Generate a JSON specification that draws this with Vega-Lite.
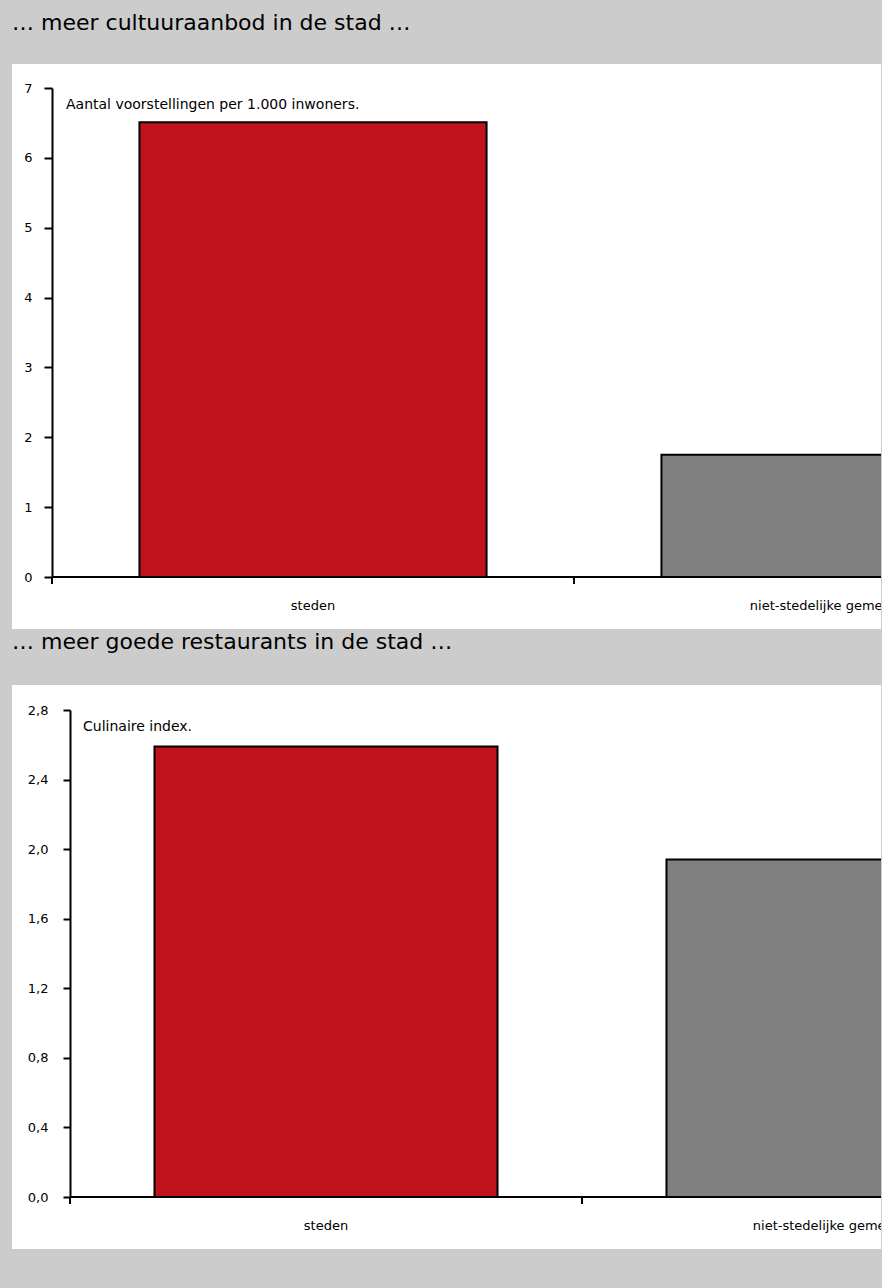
{
  "$schema": "https://vega.github.io/schema/vega-lite/v6.json",
  "background": "#cccccc",
  "padding": {"left": 12, "top": 12, "right": 1, "bottom": 39},
  "spacing": 2,
  "config": {
    "font": "DejaVu Sans",
    "locale": {"number": {"decimal": ",", "thousands": ".", "grouping": [3], "currency": ["€ ", ""]}},
    "view": {"fill": "white", "stroke": null},
    "title": {"anchor": "start", "frame": "group", "fontSize": 22, "fontWeight": "normal", "color": "black", "font": "DejaVu Sans", "offset": 29},
    "axis": {"grid": false, "domainColor": "black", "domainWidth": 2, "tickColor": "black", "tickWidth": 2, "tickSize": 8, "labelFontSize": 13, "labelColor": "black", "labelFont": "DejaVu Sans", "labelFlush": false, "title": null}
  },
  "datasets": {
    "cultuur": [
      {"gebied": "steden", "waarde": 6.51},
      {"gebied": "niet-stedelijke gemeenten", "waarde": 1.75}
    ],
    "restaurants": [
      {"gebied": "steden", "waarde": 2.59},
      {"gebied": "niet-stedelijke gemeenten", "waarde": 1.94}
    ]
  },
  "vconcat": [
    {
      "title": {"text": "… meer cultuuraanbod in de stad …"},
      "width": 869,
      "height": 565,
      "data": {"name": "cultuur"},
      "layer": [
        {
          "mark": {"type": "bar", "stroke": "black", "strokeWidth": 2, "width": {"band": 0.665}, "clip": true},
          "encoding": {
            "x": {"field": "gebied", "type": "nominal", "sort": null, "scale": {"domain": ["steden", "niet-stedelijke gemeenten"], "range": [40, 1084], "paddingInner": 0, "paddingOuter": 0}, "axis": null},
            "y": {"field": "waarde", "type": "quantitative", "scale": {"domain": [0, 7], "range": [513, 24], "nice": false, "zero": true}, "axis": {"values": [0, 1, 2, 3, 4, 5, 6, 7], "format": "d", "offset": -40, "labelPadding": 12}},
            "fill": {"field": "gebied", "type": "nominal", "scale": {"domain": ["steden", "niet-stedelijke gemeenten"], "range": ["#c1131d", "#808080"]}, "legend": null}
          }
        },
        {
          "transform": [{"filter": "datum.gebied === 'steden'"}],
          "mark": {"type": "rule", "color": "black", "strokeWidth": 2, "clip": true},
          "encoding": {
            "x": {"field": "gebied", "type": "nominal", "sort": null, "bandPosition": 0},
            "x2": {"value": "width"},
            "y": {"datum": 0}
          }
        },
        {
          "mark": {"type": "rule", "color": "black", "strokeWidth": 2, "y2Offset": 7, "clip": true},
          "encoding": {
            "x": {"field": "gebied", "type": "nominal", "sort": null, "bandPosition": 0},
            "y": {"datum": 0},
            "y2": {"datum": 0}
          }
        },
        {
          "mark": {"type": "text", "dy": 29, "fontSize": 13, "baseline": "middle", "clip": true, "color": "black"},
          "encoding": {
            "x": {"field": "gebied", "type": "nominal", "sort": null},
            "y": {"datum": 0},
            "text": {"field": "gebied"}
          }
        },
        {
          "transform": [{"filter": "datum.gebied === 'steden'"}],
          "mark": {"type": "text", "text": "Aantal voorstellingen per 1.000 inwoners.", "align": "left", "baseline": "alphabetic", "dx": 14, "dy": 21, "fontSize": 14, "color": "black"},
          "encoding": {
            "x": {"field": "gebied", "type": "nominal", "sort": null, "bandPosition": 0},
            "y": {"datum": 7}
          }
        }
      ]
    },
    {
      "title": {"text": "… meer goede restaurants in de stad …", "offset": 31},
      "width": 869,
      "height": 564,
      "data": {"name": "restaurants"},
      "layer": [
        {
          "mark": {"type": "bar", "stroke": "black", "strokeWidth": 2, "width": {"band": 0.67}, "clip": true},
          "encoding": {
            "x": {"field": "gebied", "type": "nominal", "sort": null, "scale": {"domain": ["steden", "niet-stedelijke gemeenten"], "range": [58, 1082], "paddingInner": 0, "paddingOuter": 0}, "axis": null},
            "y": {"field": "waarde", "type": "quantitative", "scale": {"domain": [0, 2.8], "range": [512, 25], "nice": false, "zero": true}, "axis": {"values": [0, 0.4, 0.8, 1.2, 1.6, 2.0, 2.4, 2.8], "format": ".1f", "offset": -58, "labelPadding": 15, "tickSize": 7}},
            "fill": {"field": "gebied", "type": "nominal", "scale": {"domain": ["steden", "niet-stedelijke gemeenten"], "range": ["#c1131d", "#808080"]}, "legend": null}
          }
        },
        {
          "transform": [{"filter": "datum.gebied === 'steden'"}],
          "mark": {"type": "rule", "color": "black", "strokeWidth": 2, "clip": true},
          "encoding": {
            "x": {"field": "gebied", "type": "nominal", "sort": null, "bandPosition": 0},
            "x2": {"value": "width"},
            "y": {"datum": 0}
          }
        },
        {
          "mark": {"type": "rule", "color": "black", "strokeWidth": 2, "y2Offset": 7, "clip": true},
          "encoding": {
            "x": {"field": "gebied", "type": "nominal", "sort": null, "bandPosition": 0},
            "y": {"datum": 0},
            "y2": {"datum": 0}
          }
        },
        {
          "mark": {"type": "text", "dy": 29, "fontSize": 13, "baseline": "middle", "clip": true, "color": "black"},
          "encoding": {
            "x": {"field": "gebied", "type": "nominal", "sort": null},
            "y": {"datum": 0},
            "text": {"field": "gebied"}
          }
        },
        {
          "transform": [{"filter": "datum.gebied === 'steden'"}],
          "mark": {"type": "text", "text": "Culinaire index.", "align": "left", "baseline": "alphabetic", "dx": 13, "dy": 21, "fontSize": 14, "color": "black"},
          "encoding": {
            "x": {"field": "gebied", "type": "nominal", "sort": null, "bandPosition": 0},
            "y": {"datum": 2.8}
          }
        }
      ]
    }
  ]
}
